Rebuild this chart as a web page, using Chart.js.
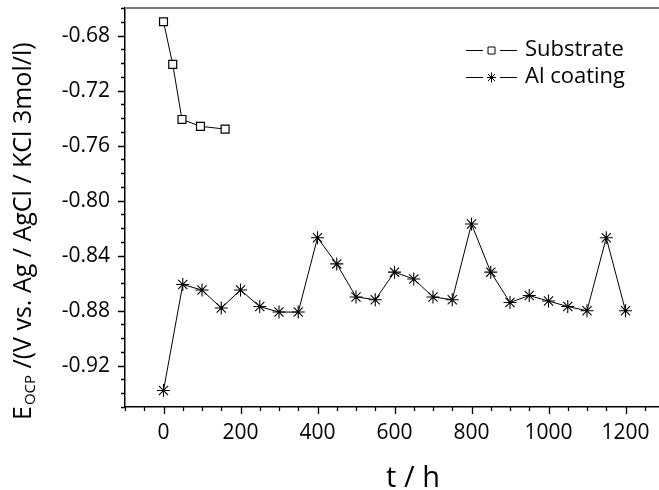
<!DOCTYPE html>
<html>
<head>
<meta charset="utf-8">
<title>OCP vs time</title>
<script src="https://cdn.jsdelivr.net/npm/chart.js@4/dist/chart.umd.min.js"></script>
<style>
  html, body { margin: 0; padding: 0; background: #fff; }
  #wrap { width: 659px; height: 490px; overflow: hidden; }
</style>
</head>
<body>
<div id="wrap"><canvas id="ocpChart" width="659" height="490"></canvas></div>
<script>
// Open circuit potential, substrate
const substrateTime = [0, 24, 48, 96, 160];
const substrateOcp = [-0.670, -0.701, -0.741, -0.746, -0.748];

// Open circuit potential, Al coating
const coatingTime = [0, 50, 100, 150, 200, 250, 300, 350, 400, 450, 500, 550, 600,
    650, 700, 750, 800, 850, 900, 950, 1000, 1050, 1100, 1150, 1200];
const coatingOcp = [-0.938, -0.861, -0.865, -0.878, -0.865, -0.877, -0.881, -0.881,
    -0.827, -0.846, -0.870, -0.872, -0.852, -0.857, -0.870, -0.872, -0.817, -0.852,
    -0.874, -0.869, -0.873, -0.877, -0.880, -0.827, -0.880];

// Tick labels
const xTickValues = [0, 200, 400, 600, 800, 1000, 1200];
const yTickValues = [-0.92, -0.88, -0.84, -0.80, -0.76, -0.72, -0.68];

const FONT = '"Open Sans", "DejaVu Sans", sans-serif';

function toPoints(xs, ys) {
    return xs.map((x, i) => ({ x: x, y: ys[i] }));
}

// keep the plot box fixed: no extra room for edge labels
function noPadding(s) {
    s.paddingLeft = 0;
    s.paddingRight = 0;
    s.paddingTop = 0;
    s.paddingBottom = 0;
}

// Outward major/minor tick marks, top frame line, legend and axis titles
const decorations = {
    id: 'decorations',
    afterDraw(chart) {
        const ctx = chart.ctx;
        const xs = chart.scales.x;
        const ys = chart.scales.y;
        const area = chart.chartArea;

        ctx.save();
        // top frame line
        ctx.strokeStyle = '#7a7a7a';
        ctx.lineWidth = 2;
        ctx.beginPath();
        ctx.moveTo(area.left, area.top);
        ctx.lineTo(area.right, area.top);
        ctx.stroke();

        // tick marks
        ctx.strokeStyle = '#000';
        ctx.lineWidth = 1.3;
        ctx.beginPath();
        for (let t = -100; t <= xs.max; t += 50) {
            const px = Math.round(xs.getPixelForValue(t)) + 0.5;
            const len = t % 200 === 0 ? 7 : 4;
            ctx.moveTo(px, area.bottom);
            ctx.lineTo(px, area.bottom + len);
        }
        for (let k = -95; k <= -66; k++) {
            const py = Math.round(ys.getPixelForValue(k / 100)) + 0.5;
            const len = k % 4 === 0 ? 7 : 4;
            ctx.moveTo(area.left, py);
            ctx.lineTo(area.left - len, py);
        }
        ctx.stroke();

        // legend
        const rows = [
            { label: 'Substrate', style: 'rect', y: 50 },
            { label: 'Al coating', style: 'star', y: 77 }
        ];
        ctx.lineWidth = 1;
        rows.forEach(r => {
            ctx.strokeStyle = '#000';
            ctx.beginPath();
            ctx.moveTo(466, r.y + 0.5);
            ctx.lineTo(483, r.y + 0.5);
            ctx.moveTo(500, r.y + 0.5);
            ctx.lineTo(517, r.y + 0.5);
            ctx.stroke();
            const cx = 491.5;
            ctx.beginPath();
            if (r.style === 'rect') {
                ctx.rect(cx - 3.5, r.y - 3, 7, 7);
            } else {
                ctx.moveTo(cx, r.y - 4.5);
                ctx.lineTo(cx, r.y + 5.5);
                ctx.moveTo(cx - 4.5, r.y + 0.5);
                ctx.lineTo(cx + 4.5, r.y + 0.5);
                ctx.moveTo(cx - 3.5, r.y - 3);
                ctx.lineTo(cx + 3.5, r.y + 4);
                ctx.moveTo(cx + 3.5, r.y - 3);
                ctx.lineTo(cx - 3.5, r.y + 4);
            }
            ctx.stroke();
            ctx.fillStyle = '#000';
            ctx.font = '22px ' + FONT;
            ctx.textAlign = 'left';
            ctx.textBaseline = 'middle';
            ctx.fillText(r.label, 525, r.y);
        });

        // x axis title
        ctx.font = '29px ' + FONT;
        ctx.textAlign = 'center';
        ctx.textBaseline = 'alphabetic';
        ctx.fillText('t / h', 413, 487);

        // y axis title with subscript
        ctx.translate(31, 420);
        ctx.rotate(-Math.PI / 2);
        ctx.textAlign = 'left';
        ctx.font = '25px ' + FONT;
        ctx.fillText('E', 0, 0);
        let off = ctx.measureText('E').width + 1;
        ctx.font = '15px ' + FONT;
        ctx.fillText('OCP', off, 4);
        off += ctx.measureText('OCP').width;
        ctx.font = '25px ' + FONT;
        ctx.fillText(' /(V vs. Ag / AgCl / KCl 3mol/l)', off, 0);
        ctx.restore();
    }
};

document.addEventListener('DOMContentLoaded', () => {
    const ctx = document.getElementById('ocpChart').getContext('2d');

    new Chart(ctx, {
        type: 'line',
        data: {
            datasets: [{
                label: 'Substrate',
                data: toPoints(substrateTime, substrateOcp),
                borderColor: '#000',
                borderWidth: 1,
                pointStyle: 'rect',
                pointRadius: 5.6,
                pointBackgroundColor: '#fff',
                pointBorderColor: '#000',
                pointBorderWidth: 1.2
            }, {
                label: 'Al coating',
                data: toPoints(coatingTime, coatingOcp),
                borderColor: '#000',
                borderWidth: 1,
                pointStyle: 'star',
                pointRadius: 6.5,
                pointBackgroundColor: '#000',
                pointBorderColor: '#000',
                pointBorderWidth: 1.1
            }]
        },
        options: {
            responsive: false,
            animation: false,
            devicePixelRatio: 1,
            layout: { autoPadding: false, padding: { top: 8, right: 0, left: 0, bottom: 0 } },
            plugins: {
                legend: { display: false },
                tooltip: { enabled: false }
            },
            scales: {
                x: {
                    type: 'linear',
                    min: -100,
                    max: 1287,
                    afterFit: s => { s.height = 83; noPadding(s); },
                    afterBuildTicks: s => { s.ticks = xTickValues.map(v => ({ value: v })); },
                    grid: { drawOnChartArea: false, tickLength: 7, tickColor: 'rgba(0,0,0,0)' },
                    border: { display: true, color: '#000', width: 1.5 },
                    ticks: {
                        autoSkip: false,
                        maxRotation: 0,
                        padding: 6,
                        color: '#000',
                        font: { family: FONT, size: 21 },
                        callback: v => String(v)
                    }
                },
                y: {
                    type: 'linear',
                    min: -0.95,
                    max: -0.66,
                    afterFit: s => { s.width = 125; noPadding(s); },
                    afterBuildTicks: s => { s.ticks = yTickValues.map(v => ({ value: v })); },
                    grid: { drawOnChartArea: false, tickLength: 7, tickColor: 'rgba(0,0,0,0)' },
                    border: { display: true, color: '#000', width: 1.5 },
                    ticks: {
                        autoSkip: false,
                        padding: 8,
                        color: '#000',
                        font: { family: FONT, size: 21 },
                        callback: v => v.toFixed(2)
                    }
                }
            }
        },
        plugins: [decorations]
    });
});
</script>
</body>
</html>
